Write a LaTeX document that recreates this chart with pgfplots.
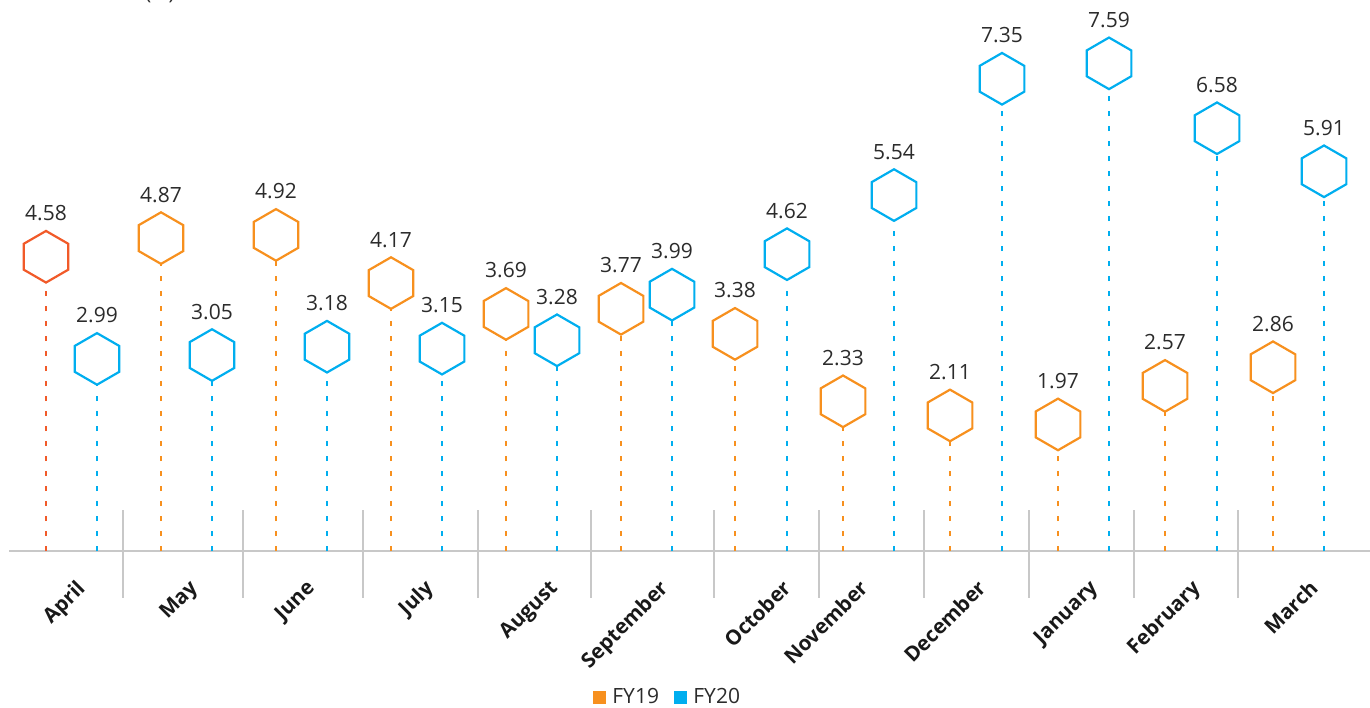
\documentclass[border=0pt]{standalone}
\usepackage{pgfplots}
\pgfplotsset{compat=1.18}
\usepackage{fontspec}
\setmainfont{Open Sans}

\definecolor{fyorange}{HTML}{F7901E}
\definecolor{fyred}{HTML}{F15A29}
\definecolor{fyblue}{HTML}{00AEEF}
\definecolor{txt}{HTML}{2B2B2B}
\definecolor{rulegray}{HTML}{C8C8C8}

% pointy-top hexagon marker
\pgfdeclareplotmark{hexagon}{%
  \pgfpathmoveto{\pgfpointpolar{90}{\pgfplotmarksize}}%
  \pgfpathlineto{\pgfpointpolar{150}{\pgfplotmarksize}}%
  \pgfpathlineto{\pgfpointpolar{210}{\pgfplotmarksize}}%
  \pgfpathlineto{\pgfpointpolar{270}{\pgfplotmarksize}}%
  \pgfpathlineto{\pgfpointpolar{330}{\pgfplotmarksize}}%
  \pgfpathlineto{\pgfpointpolar{30}{\pgfplotmarksize}}%
  \pgfpathclose
  \pgfusepathqfillstroke
}

\tikzset{
  month/.style={rotate=45, anchor=north east, inner sep=0pt,
    font=\bfseries\fontsize{10.3}{12}\selectfont, text=black!90},
  plain/.style={inner sep=0pt, font=\fontsize{10.5}{12}\selectfont, text=txt},
}
\pgfplotsset{
  stem/.style={ycomb, line width=1pt, dash pattern=on 2.5pt off 5pt,
    mark=hexagon, mark size=12.9pt,
    mark options={solid, fill=white, line width=1.1pt}},
}

\begin{document}
\begin{tikzpicture}
\begin{axis}[
  scale only axis, width=685pt, height=353.5pt,
  xmin=0, xmax=1370, ymin=-2.428, ymax=8.576,
  hide axis, clip=false,
  nodes near coords={\pgfmathprintnumber[fixed, fixed zerofill, precision=2, assume math mode=true]{\pgfplotspointmeta}},
  nodes near coords style={anchor=base, yshift=18pt, inner sep=0pt,
    font=\fontsize{10.5}{12}\selectfont, text=txt},
]
\coordinate (bl) at (rel axis cs:0,0);
\coordinate (tr) at (rel axis cs:1,1);

% baseline and month separators
\draw[rulegray, line width=1pt] (axis cs:9,0) -- (axis cs:1370,0);
\draw[rulegray, line width=0.8pt]
  (axis cs:123,0.638) -- (axis cs:123,-0.732)
  (axis cs:243,0.638) -- (axis cs:243,-0.732)
  (axis cs:363,0.638) -- (axis cs:363,-0.732)
  (axis cs:478,0.638) -- (axis cs:478,-0.732)
  (axis cs:591,0.638) -- (axis cs:591,-0.732)
  (axis cs:714,0.638) -- (axis cs:714,-0.732)
  (axis cs:819,0.638) -- (axis cs:819,-0.732)
  (axis cs:924,0.638) -- (axis cs:924,-0.732)
  (axis cs:1029,0.638) -- (axis cs:1029,-0.732)
  (axis cs:1134,0.638) -- (axis cs:1134,-0.732)
  (axis cs:1238,0.638) -- (axis cs:1238,-0.732);

% FY19
\addplot[stem, color=fyred] coordinates {(46,4.58)};
\addplot[stem, color=fyorange] coordinates {
  (161,4.87) (276,4.92) (391,4.17) (506,3.69) (621,3.77) (735,3.38)
  (843,2.33) (950,2.11) (1058,1.97) (1165,2.57) (1273,2.86)};
% FY20
\addplot[stem, color=fyblue] coordinates {
  (97,2.99) (212,3.05) (327,3.18) (442,3.15) (557,3.28) (672,3.99)
  (787,4.62) (894,5.54) (1002,7.35) (1109,7.59) (1217,6.58) (1324,5.91)};

% month names
\node[month] at (axis cs:75,-0.42) {April};
\node[month] at (axis cs:188,-0.42) {May};
\node[month] at (axis cs:305,-0.42) {June};
\node[month] at (axis cs:423,-0.42) {July};
\node[month] at (axis cs:548,-0.42) {August};
\node[month] at (axis cs:658,-0.42) {September};
\node[month] at (axis cs:781,-0.42) {October};
\node[month] at (axis cs:858,-0.42) {November};
\node[month] at (axis cs:976,-0.42) {December};
\node[month] at (axis cs:1088,-0.42) {January};
\node[month] at (axis cs:1190,-0.42) {February};
\node[month] at (axis cs:1308,-0.42) {March};

% legend
\fill[fyorange] (axis cs:593,-2.381) rectangle (axis cs:606,-2.179);
\node[plain, anchor=base west] at (axis cs:612,-2.381) {FY19};
\fill[fyblue] (axis cs:674,-2.381) rectangle (axis cs:687,-2.179);
\node[plain, anchor=base west] at (axis cs:693,-2.381) {FY20};

% unit note at the top edge
\node[plain, anchor=base] at (axis cs:160,8.59) {(\%)};
\end{axis}
\pgfresetboundingbox
\useasboundingbox (bl) rectangle (tr);
\end{tikzpicture}
\end{document}
